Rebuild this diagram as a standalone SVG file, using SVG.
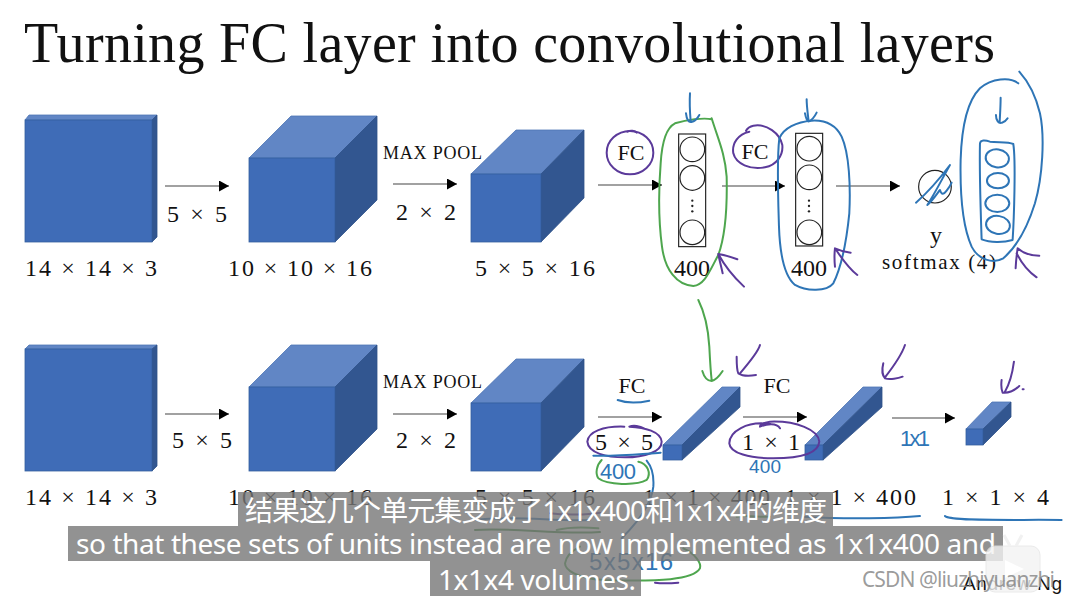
<svg xmlns="http://www.w3.org/2000/svg" width="1067" height="600" viewBox="0 0 1067 600">
<style>
.f{fill:#3f6cb7;stroke:#35609f;stroke-width:.8}
.t{fill:#6186c5;stroke:#4f76b5;stroke-width:.8}
.s{fill:#325690;stroke:#2f5289;stroke-width:.8}
text{font-family:"Liberation Serif","Noto Serif",serif;fill:#111}
.l{font-size:24px;text-anchor:start}
.m{font-size:18px}
.c{font-size:22px;text-anchor:middle}
.a{stroke:#444;stroke-width:1.1;fill:none;marker-end:url(#h)}
.b{fill:none;stroke:#222;stroke-width:3.5}
.n{fill:#fff;stroke:#222;stroke-width:3.5}
.d{fill:#222}
.ib{fill:none;stroke:#2e75b6;stroke-width:6;stroke-linecap:round;stroke-linejoin:round}
.ig{fill:none;stroke:#4ea64e;stroke-width:6;stroke-linecap:round;stroke-linejoin:round}
.ip{fill:none;stroke:#5b3a9a;stroke-width:6;stroke-linecap:round;stroke-linejoin:round}
.hw{font-family:"Liberation Sans",sans-serif;fill:#2e75b6}
.cb{fill:#777;fill-opacity:.8}
.ct{font-family:"Noto Sans","Noto Sans CJK SC",sans-serif;font-size:28px;fill:#fff}
</style>
<defs>
<marker id="h" markerUnits="userSpaceOnUse" markerWidth="10" markerHeight="11" refX="10" refY="5.5" orient="auto"><path d="M0 0L10 5.5L0 11Z" fill="#000"/></marker>
</defs>
<rect width="1067" height="600" fill="#fff"/>
<text id="title" x="24" y="62" font-size="56" textLength="971" lengthAdjust="spacing">Turning FC layer into convolutional layers</text>

<g id="cube-a1"><path class="t" d="M25 120L29 115H157L152 120Z"/><path class="s" d="M152 120L157 115V237L152 242Z"/><rect class="f" x="25" y="120" width="127" height="122"/></g>
<g id="cube-a2"><path class="t" d="M249 158L291 116H377L335 158Z"/><path class="s" d="M335 158L377 116V200L335 242Z"/><rect class="f" x="249" y="158" width="86" height="84"/></g>
<g id="cube-a3"><path class="t" d="M471 174L516 130H584L541 174Z"/><path class="s" d="M541 174L584 130V198L541 242Z"/><rect class="f" x="471" y="174" width="70" height="68"/></g>
<g id="cube-b1"><path class="t" d="M25 349L29 345H157L152 349Z"/><path class="s" d="M152 349L157 345V466L152 471Z"/><rect class="f" x="25" y="349" width="127" height="122"/></g>
<g id="cube-b2"><path class="t" d="M249 387L291 345H377L335 387Z"/><path class="s" d="M335 387L377 345V429L335 471Z"/><rect class="f" x="249" y="387" width="86" height="84"/></g>
<g id="cube-b3"><path class="t" d="M471 403L516 359H584L541 403Z"/><path class="s" d="M541 403L584 359V427L541 471Z"/><rect class="f" x="471" y="403" width="70" height="68"/></g>
<g id="beam-1"><path class="t" d="M663 445L722 387H740L682 445Z"/><path class="s" d="M682 445L740 387V407L682 460Z"/><rect class="f" x="663" y="445" width="19" height="15"/></g>
<g id="beam-2"><path class="t" d="M805 445L863 387H882L823 445Z"/><path class="s" d="M823 445L882 387V407L823 460Z"/><rect class="f" x="805" y="445" width="18" height="15"/></g>
<g id="beam-3"><path class="t" d="M966 429L992 402H1011L983 429Z"/><path class="s" d="M983 429L1011 402V417L983 445Z"/><rect class="f" x="966" y="429" width="17" height="16"/></g>

<g id="net-1" transform="translate(590 60) scale(.3333)"><rect class="b" x="266" y="222" width="81" height="338"/><circle class="n" cx="307" cy="268" r="37"/><circle class="n" cx="307" cy="354" r="37"/><circle class="n" cx="307" cy="517" r="37"/><circle class="d" cx="307" cy="422" r="3.5"/><circle class="d" cx="307" cy="438" r="3.5"/><circle class="d" cx="307" cy="454" r="3.5"/></g>
<g id="net-2" transform="translate(590 60) scale(.3333)"><rect class="b" x="617" y="220" width="81" height="338"/><circle class="n" cx="658" cy="266" r="37"/><circle class="n" cx="658" cy="352" r="37"/><circle class="n" cx="658" cy="517" r="37"/><circle class="d" cx="657" cy="422" r="3.5"/><circle class="d" cx="657" cy="438" r="3.5"/><circle class="d" cx="657" cy="454" r="3.5"/></g>
<g id="out-node" transform="translate(590 60) scale(.3333)"><circle class="n" cx="1035" cy="380" r="49"/></g>

<g id="connectors">
<path class="a" d="M165 186H229"/><path class="a" d="M393 184H457"/><path class="a" d="M598 185H662"/><path class="a" d="M722 186H785"/><path class="a" d="M836 186H900"/>
<path class="a" d="M165 414H229"/><path class="a" d="M393 414H457"/><path class="a" d="M598 417H662"/><path class="a" d="M743 417H807"/><path class="a" d="M892 418H955"/>
</g>

<g id="labels">
<text class="l" x="25" y="276" textLength="132">14 × 14 × 3</text>
<text class="l" x="228" y="276" textLength="144">10 × 10 × 16</text>
<text class="l" x="475" y="276" textLength="120">5 × 5 × 16</text>
<text class="l" x="167" y="222" textLength="60">5 × 5</text>
<text class="l" x="396" y="220" textLength="60">2 × 2</text>
<text class="m" x="383" y="159" textLength="99">MAX POOL</text>
<text class="c" x="631" y="160">FC</text>
<text class="c" x="755" y="159">FC</text>
<text class="l" x="674" y="276" textLength="36">400</text>
<text class="l" x="791" y="276" textLength="36">400</text>
<text class="c" x="936" y="243" style="font-size:24px">y</text>
<text class="c" x="939" y="269" textLength="114" style="font-size:21px">softmax (4)</text>
<text class="l" x="25" y="505" textLength="132">14 × 14 × 3</text>
<text class="l" x="228" y="505" textLength="144">10 × 10 × 16</text>
<text class="l" x="475" y="505" textLength="120">5 × 5 × 16</text>
<text class="l" x="172" y="448" textLength="60">5 × 5</text>
<text class="l" x="396" y="448" textLength="60">2 × 2</text>
<text class="m" x="383" y="388" textLength="99">MAX POOL</text>
<text class="c" x="632" y="393">FC</text>
<text class="c" x="777" y="393">FC</text>
<text class="l" x="595" y="450" textLength="58">5 × 5</text>
<text class="l" x="742" y="450" textLength="58">1 × 1</text>
<text class="l" x="643" y="505" textLength="127">1 × 1 × 400</text>
<text class="l" x="785" y="505" textLength="131">1 × 1 × 400</text>
<text class="l" x="942" y="505" textLength="107">1 × 1 × 4</text>
</g>

<g id="ink-top" transform="translate(590 60) scale(.3333)">
<path class="ig" d="M365 178C340 172 290 180 255 190C225 205 215 260 212 310C205 400 208 500 216 560C225 630 260 675 310 678C345 675 360 630 385 585C405 530 412 440 410 350C405 280 385 240 365 175"/>
<path class="ib" d="M300 100C298 130 300 160 302 184M288 160C290 178 296 188 304 186C314 184 322 176 328 165"/>
<ellipse class="ip" cx="120" cy="278" rx="70" ry="65"/><path class="ip" d="M112 215C122 210 134 212 140 218"/>
<path class="ip" d="M478 215C445 222 425 250 430 280C438 312 480 330 525 322C560 315 580 285 577 255C570 220 530 190 490 197C480 199 472 205 468 212"/>
<path class="ib" d="M568 235C580 205 620 185 665 182C700 180 735 190 755 230C778 280 782 380 778 460C770 540 755 620 730 670C710 695 650 695 615 675C585 650 570 590 567 500C564 400 560 300 568 235"/>
<path class="ib" d="M650 118C650 140 654 165 656 184M645 160C648 175 652 186 657 184C666 180 674 170 680 158"/>
<path class="ip" d="M462 680C430 650 405 620 385 582M398 640C394 620 388 600 385 582C405 585 425 592 442 598"/>
<path class="ip" d="M802 645C775 625 755 595 735 565M735 620C733 600 733 582 735 565C750 572 765 576 782 578"/>
<path class="ip" d="M1340 652C1315 635 1295 610 1280 580M1277 625C1278 605 1280 585 1283 565C1300 580 1322 587 1348 587"/>
<path class="ib" d="M1285 70C1260 50 1205 55 1170 85C1130 125 1115 200 1112 300C1110 400 1118 500 1145 560C1165 600 1210 612 1240 595C1275 565 1310 510 1335 430C1358 350 1365 230 1350 160C1338 110 1315 65 1288 35"/>
<path class="ib" d="M1232 113C1232 140 1230 165 1229 188M1218 165C1218 182 1226 192 1236 188C1244 186 1250 180 1253 175"/>
<path class="ib" d="M1170 250C1172 240 1185 240 1200 245C1225 248 1255 245 1270 252C1278 300 1272 480 1268 540C1240 548 1200 548 1175 538C1172 450 1168 340 1170 250Z"/>
<ellipse class="ib" cx="1222" cy="295" rx="35" ry="27" transform="rotate(8 1222 295)"/><ellipse class="ib" cx="1224" cy="362" rx="33" ry="23"/><ellipse class="ib" cx="1222" cy="430" rx="36" ry="26"/><ellipse class="ib" cx="1224" cy="495" rx="36" ry="27" transform="rotate(10 1224 495)"/>
<path class="ib" d="M978 428C1010 400 1050 355 1080 315C1060 350 1035 400 1012 435C1030 420 1045 395 1050 390C1055 405 1060 405 1070 392C1078 382 1082 375 1085 368"/>
</g>

<g id="ink-bottom" transform="translate(570 300) scale(.3333)">
<path class="ig" d="M385 0C405 40 415 90 418 140C420 180 422 215 425 240M397 213C402 230 412 243 425 243C438 240 450 225 458 213"/>
<path class="ip" d="M570 135C565 155 540 185 510 220M500 170C500 190 500 210 505 220C520 230 540 228 558 225"/>
<path class="ip" d="M1005 135C995 165 970 200 945 232M940 190C935 210 938 228 945 235C960 240 985 235 998 230"/>
<path class="ip" d="M1332 185C1328 215 1320 250 1305 275M1295 240C1293 255 1295 270 1298 278C1315 280 1335 270 1348 258M1358 268L1361 268"/>
<path class="ib" d="M143 300C170 310 210 308 238 302"/>
<path class="ip" d="M163 380C100 378 55 395 52 425C55 460 110 472 165 472C225 472 275 455 275 425C272 395 225 382 178 380C190 375 210 378 222 385"/>
<path class="ip" d="M600 372C530 362 478 395 478 430C480 460 540 475 610 475C680 475 745 465 748 425C745 390 680 362 600 365C580 368 570 375 570 380C590 372 620 368 630 385"/>
<path class="ib" d="M70 467C130 470 210 462 272 458"/>
<path class="ig" d="M95 480C80 495 75 520 85 535C110 555 200 558 230 540C245 520 232 490 205 485"/>
<path class="ib" d="M230 482C245 500 252 530 250 560C245 610 205 665 155 715"/>
<path class="ip" d="M-60 640C-20 645 50 645 90 638"/>
<path class="ig" d="M-40 690C0 680 50 682 85 685"/>
<path class="ig" d="M500 650C530 645 570 652 600 650"/>
<path class="ib" d="M700 650C830 658 980 655 1050 648"/>
<path class="ib" d="M1125 648C1140 665 1350 658 1475 660"/>
<path class="ig" d="M340 745C375 760 395 790 390 805C370 840 270 845 100 840C20 835 -15 810 -15 790C-10 760 20 745 30 740"/>
<path class="ip" d="M255 848C280 852 305 850 325 848"/>
</g>
<path class="ib" style="stroke-width:2" d="M475 520C510 515 560 522 590 520"/>
<path class="ig" style="stroke-width:2;stroke:#3f8a3f" d="M475 530C510 527 560 535 600 532"/>
<text class="hw" x="600" y="479" font-size="22" textLength="36">400</text>
<text class="hw" x="749" y="473" font-size="19" textLength="32">400</text>
<text class="hw" x="900" y="446" font-size="22" textLength="30">1x1</text>
<text class="hw" x="589" y="570" font-size="24" textLength="84">5x5x16</text>

<g id="captions">
<rect class="cb" x="238" y="492" width="595" height="34"/>
<rect class="cb" x="68" y="526" width="935" height="35"/>
<rect class="cb" x="430" y="561" width="211" height="35"/>
<text class="ct" x="245" y="521" textLength="582">结果这几个单元集变成了1x1x400和1x1x4的维度</text>
<text class="ct" x="76" y="554" textLength="920">so that these sets of units instead are now implemented as 1x1x400 and</text>
<text class="ct" x="438" y="590" textLength="198">1x1x4 volumes.</text>
</g>

<text id="credit" x="963" y="590" font-size="19" textLength="99" style="font-family:'Liberation Sans',sans-serif">Andrew Ng</text>
<g id="logo" opacity=".8"><rect x="986" y="546" width="54" height="46" rx="9" fill="#f3f3f3" stroke="#e6e6e6"/><path d="M1004 535L1010 546M1022 535L1016 546" stroke="#eee" stroke-width="3" fill="none"/><path d="M1005 560L1024 569L1005 578Z" fill="#fff"/></g>
<text id="watermark" x="862" y="587" font-size="21" textLength="193" style="font-family:'Noto Sans',sans-serif;fill:#8a8a8a;fill-opacity:.85">CSDN @liuzhiyuanzhi</text>
</svg>
